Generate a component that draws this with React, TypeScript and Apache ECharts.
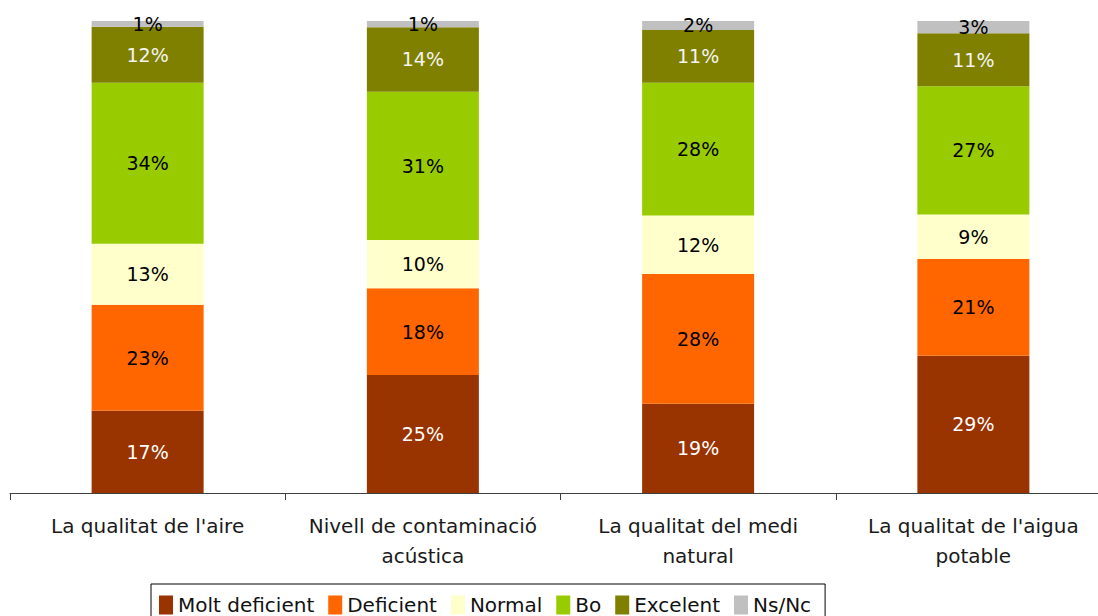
import React, { useEffect, useRef } from "react";
import * as echarts from "echarts";

const categories = [
  "La qualitat de l'aire",
  "Nivell de contaminació\nacústica",
  "La qualitat del medi\nnatural",
  "La qualitat de l'aigua\npotable",
];

const seriesNames = ["Molt deficient", "Deficient", "Normal", "Bo", "Excelent", "Ns/Nc"];
const seriesColors = ["#993300", "#FF6600", "#FFFFCC", "#99CC00", "#808000", "#C0C0C0"];
const labelColors = ["#FFFFFF", "#000000", "#000000", "#000000", "#F4F4F4", "#000000"];

const moltDeficient = [17.4, 25.0, 18.9, 29.1];
const deficient = [22.5, 18.4, 27.5, 20.5];
const normal = [12.9, 10.2, 12.4, 9.4];
const bo = [34.1, 31.4, 28.1, 27.2];
const excelent = [11.9, 13.7, 11.2, 11.2];
const nsNc = [1.2, 1.3, 1.9, 2.6];

const seriesValues = [moltDeficient, deficient, normal, bo, excelent, nsNc];

const FONT = "DejaVu Sans";

export default function App() {
  const ref = useRef<HTMLDivElement>(null);
  useEffect(() => {
    if (!ref.current) return;
    const chart = echarts.init(ref.current, null, { renderer: "svg" });
    chart.setOption({
      animation: false,
      backgroundColor: "#FFFFFF",
      textStyle: { fontFamily: FONT },
      grid: { left: 10, right: 0, top: 21, bottom: 123, containLabel: false },
      legend: {
        data: seriesNames,
        left: 151,
        top: 584,
        orient: "horizontal",
        borderColor: "#000000",
        borderWidth: 1,
        borderRadius: 0,
        padding: [11, 14, 10, 8],
        itemGap: 14,
        itemWidth: 14,
        itemHeight: 19,
        icon: "rect",
        textStyle: { fontFamily: FONT, fontSize: 20, color: "#111111" },
      },
      xAxis: {
        type: "category",
        data: categories,
        axisLine: { show: true, lineStyle: { color: "#404040", width: 1 } },
        axisTick: { show: true, length: 7, lineStyle: { color: "#404040" } },
        axisLabel: {
          fontFamily: FONT,
          fontSize: 20,
          lineHeight: 30,
          color: "#1a1a1a",
          margin: 18,
          interval: 0,
        },
      },
      yAxis: {
        type: "value",
        min: 0,
        max: 100,
        show: false,
        splitLine: { show: false },
      },
      series: seriesNames.map((name, i) => ({
        name,
        type: "bar",
        stack: "total",
        barWidth: 112,
        data: seriesValues[i],
        itemStyle: { color: seriesColors[i] },
        label: {
          show: true,
          position: "inside",
          fontFamily: FONT,
          fontSize: 19,
          color: labelColors[i],
          formatter: (p: any) => Math.round(p.value) + "%",
        },
      })),
    });
    return () => chart.dispose();
  }, []);
  return (
    <div
      ref={ref}
      style={{ position: "fixed", left: 0, top: 0, width: 1111, height: 616, background: "#fff" }}
    />
  );
}
